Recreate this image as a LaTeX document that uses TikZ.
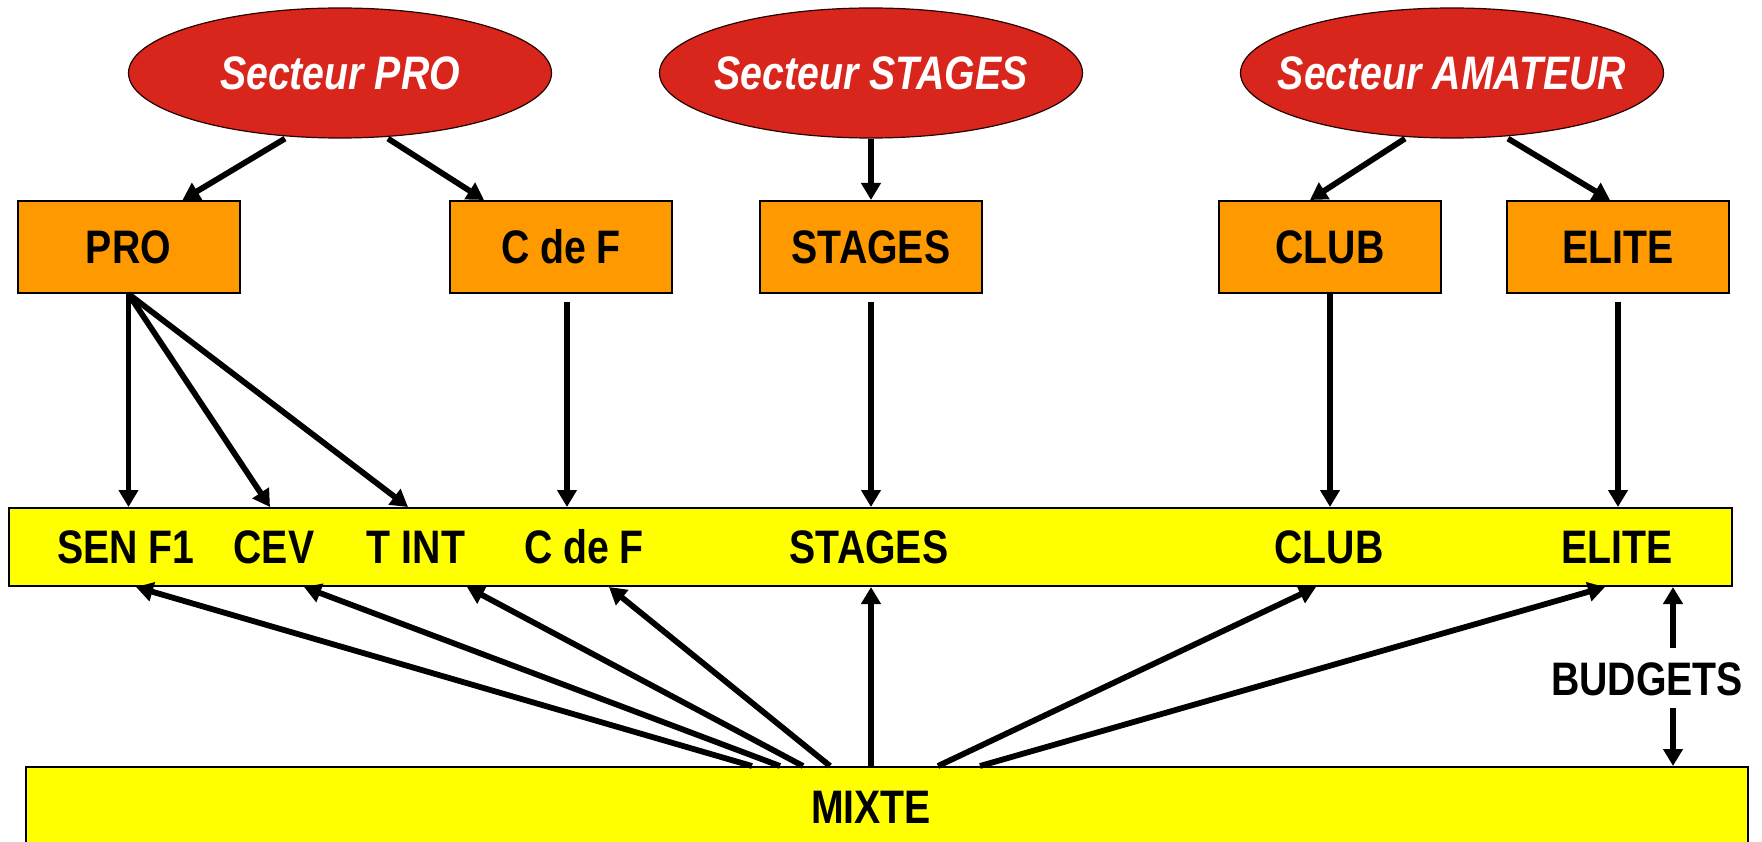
\documentclass[tikz,border=0pt]{standalone}
\usepackage{fontspec}
\setmainfont{Liberation Sans}[FakeStretch=0.835]
\usetikzlibrary{shapes.geometric,arrows.meta}
\definecolor{secred}{RGB}{217,38,28}
\definecolor{orng}{RGB}{255,153,0}
\definecolor{yel}{RGB}{255,255,0}
\begin{document}
\begin{tikzpicture}[x=1pt,y=-1pt,
  every node/.style={font=\fontsize{47}{50}\selectfont\bfseries, inner sep=0pt},
  sector/.style={ellipse, draw=black!85!red, line width=1.2pt, fill=secred,
    minimum width=423pt, minimum height=130pt},
  sectxt/.style={text=white, font=\fontsize{47}{50}\selectfont\bfseries\itshape,
    text height=33.7pt, text depth=0pt},
  obox/.style={rectangle, draw=black, line width=2pt, fill=orng, minimum width=222pt,
    minimum height=92pt, text height=33.7pt, text depth=0pt},
  ybar/.style={rectangle, draw=black, line width=2pt, fill=yel},
  lbl/.style={text height=33.7pt, text depth=0pt},
  arr/.style={line width=5.8pt, -{Triangle[length=17pt,width=19pt]}},
]
\useasboundingbox (0,0) rectangle (1762,842);
\clip (0,0) rectangle (1762,842);

% sector ellipses
\node[sector, label={[sectxt]center:Secteur PRO}] (secpro) at (340,73) {};
\node[sector, label={[sectxt]center:Secteur STAGES}] (secstg) at (871,73) {};
\node[sector, label={[sectxt]center:Secteur AMATEUR}] (secam)  at (1452,73) {};

% orange boxes
\node[obox] (pro)   at (128.5,247) {PRO};
\node[obox] (cdef)  at (561,247) {C de F};
\node[obox] (stg)   at (871,247) {STAGES};
\node[obox] (club)  at (1330,247) {CLUB};
\node[obox] (elite) at (1618,247) {ELITE};

% yellow bar
\node[ybar, minimum width=1723pt, minimum height=78pt] (bar) at (870.5,547) {};
\node[lbl] (sen)   at (126,547) {SEN F1};
\node[lbl] (cev)   at (274,547) {CEV};
\node[lbl] (tint)  at (416,547) {T INT};
\node[lbl] (cdf2)  at (584,547) {C de F};
\node[lbl] (stg2)  at (869,547) {STAGES};
\node[lbl] (club2) at (1329,547) {CLUB};
\node[lbl] (elt2)  at (1617,547) {ELITE};

% mixte
\node[ybar, minimum width=1722pt, minimum height=110pt] (mixte) at (887,822) {};
\node[lbl] (mix) at (871,807) {MIXTE};

% budgets
\node[lbl] (bud) at (1647,679) {BUDGETS};

% ellipses -> boxes
\draw[arr] ([xshift=-55pt]secpro.south) -- ([xshift=54pt]pro.north);
\draw[arr] ([xshift=48pt]secpro.south) -- ([xshift=-77pt]cdef.north);
\draw[arr] (secstg.south) -- (stg.north);
\draw[arr] ([xshift=-47pt]secam.south) -- ([xshift=-20pt]club.north);
\draw[arr] ([xshift=56pt]secam.south) -- ([xshift=-8pt]elite.north);

% boxes -> bar
\draw[arr] (pro.south) -- (pro.south |- bar.north);
\draw[arr] (pro.south) -- ([xshift=-4pt]cev.center |- bar.north);
\draw[arr] (pro.south) -- ([xshift=-8pt]tint.center |- bar.north);
\coordinate (c1) at ([xshift=6pt,yshift=-8pt]cdef.south);
\draw[arr] (c1) -- (c1 |- bar.north);
\coordinate (c2) at ([yshift=-8pt]stg.south);
\draw[arr] (c2) -- (c2 |- bar.north);
\draw[arr] (club.south) -- (club.south |- bar.north);
\coordinate (c3) at ([yshift=-8pt]elite.south);
\draw[arr] (c3) -- (c3 |- bar.north);

% mixte -> bar
\draw[arr] ([xshift=-135pt]mixte.north) -- ([xshift=10pt]sen.center |- bar.south);
\draw[arr] ([xshift=-107pt]mixte.north) -- ([xshift=30pt]cev.center |- bar.south);
\draw[arr] ([xshift=-84pt]mixte.north) -- ([xshift=51pt]tint.center |- bar.south);
\draw[arr] ([xshift=-57pt]mixte.north) -- ([xshift=25pt]cdf2.center |- bar.south);
\draw[arr] ([xshift=-16pt]mixte.north) -- ([xshift=2pt]stg2.center |- bar.south);
\draw[arr] ([xshift=51pt]mixte.north) -- ([xshift=-13pt]club2.center |- bar.south);
\draw[arr] ([xshift=93pt]mixte.north) -- ([xshift=-12pt]elt2.center |- bar.south);

% budgets arrows
\coordinate (b1) at ([xshift=26pt,yshift=14pt]bud.north);
\draw[arr] (b1) -- (b1 |- bar.south);
\coordinate (b2) at ([xshift=26pt,yshift=-12pt]bud.south);
\draw[arr] (b2) -- (b2 |- mixte.north);
\end{tikzpicture}
\end{document}
